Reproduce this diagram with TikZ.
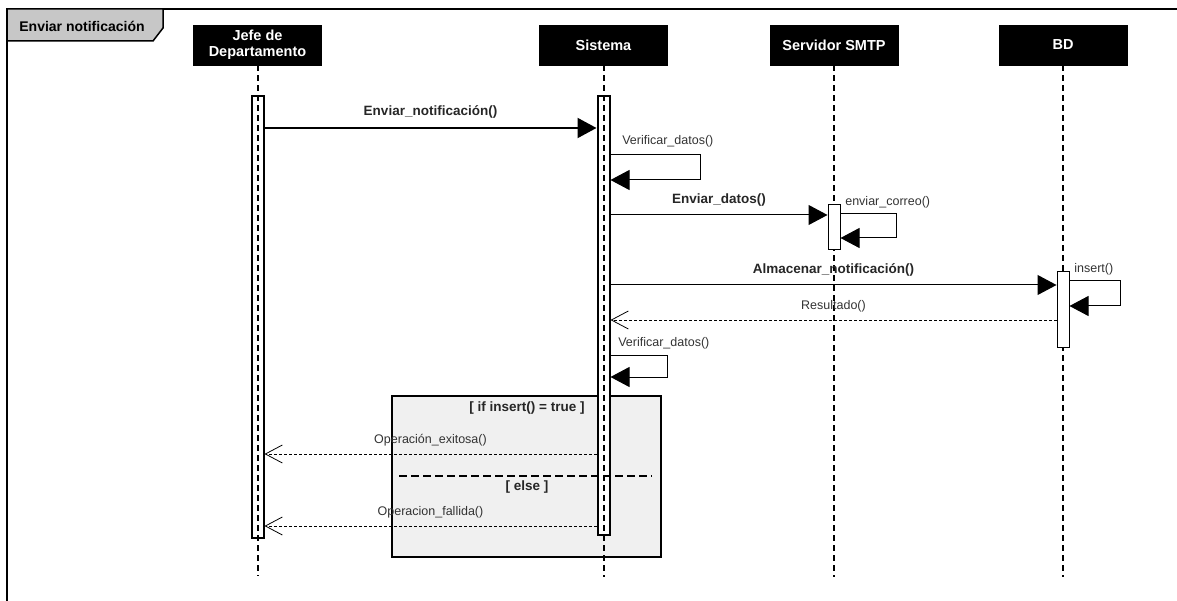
\documentclass[tikz,border=0pt]{standalone}
\usepackage{fontspec}
\setmainfont{Liberation Sans}
\usetikzlibrary{positioning, arrows.meta, calc}
\tikzset{
  % --- frame with title tab ---
  sdframe/.style={line width=2.5pt},
  sdtitle/.style={draw, line width=1.5pt, fill=black!22},
  % --- lifeline heads, lifelines, activations ---
  headbox/.style={draw, fill=black, text=white, align=center,
    font=\fontsize{14.5}{16}\selectfont\bfseries,
    minimum width=128pt, minimum height=40pt, inner sep=2pt},
  lifeline/.style={line width=2pt, dash pattern=on 6pt off 4pt},
  actbar/.style={draw, fill=white, line width=2pt, minimum width=12pt, inner sep=0pt},
  actthin/.style={actbar, line width=1pt},
  % --- messages ---
  msg/.style={-{Triangle[length=19pt, width=20pt]}, line width=1pt},
  msgthick/.style={msg, line width=2pt},
  retmsg/.style={-{Straight Barb[length=17pt, width=18pt]}, line width=0.8pt,
    dash pattern=on 3pt off 2pt},
  lblbold/.style={font=\fontsize{13.5}{15}\selectfont\bfseries, text=black!85},
  lbl/.style={font=\fontsize{12.5}{14}\selectfont, text=black!80},
  % --- alt fragment ---
  fragbox/.style={draw, line width=2pt, fill=black!6},
  fragsep/.style={line width=2pt, dash pattern=on 8pt off 4pt},
}

\begin{document}
\begin{tikzpicture}[x=1pt, y=-1pt]
    \useasboundingbox (0,0) rectangle (1177,601);
    % ---- Frame ----
    \draw[sdframe] (7,601) -- (7,9) -- (1177,9);
    \draw[sdtitle] (7,9) -- (163,9) -- (163,28) -- (153,41) -- (7,41) -- cycle;
    \node[font=\fontsize{14}{16}\selectfont\bfseries] (title) at (82,26) {Enviar notificación};
    % ---- Heads ----
    \node[headbox] (jefe) at (257.5,45) {Jefe de\\Departamento};
    \node[headbox] (sis) at (603.5,45) {Sistema};
    \node[headbox] (smtp) at (834,45) {Servidor SMTP};
    \node[headbox] (bd) at (1063,45) {BD};
    % ---- Alt fragment (behind bars) ----
    \node[fragbox, minimum width=269pt, minimum height=161pt, inner sep=0pt] (alt) at (526.5,476) {};
    % ---- Activations ----
    \node[actbar, minimum height=442pt] (barJ) at (257.5,317) {};
    \node[actbar, minimum height=439pt] (barS) at (603.5,315.5) {};
    \coordinate (jend) at (257.5,576);
    \coordinate (send) at (603.5,577);
    \coordinate (mend) at (834,577);
    \coordinate (bend) at (1063,577);
    % ---- Lifelines ----
    \draw[lifeline] (jefe.south) -- (jend);
    \draw[lifeline] (sis.south) -- (send);
    \draw[lifeline] (smtp.south) -- (mend);
    \draw[lifeline] (bd.south) -- (bend);
    \node[actthin, minimum height=45pt] (barM) at (834,227.5) {};
    \node[actthin, minimum height=75pt] (barB) at (1063,309.5) {};
    % ---- Guards ----
    \node[lblbold] (g1) at (527,408) {[ if insert() = true ]};
    \draw[fragsep] (399,476) -- (652,476);
    \node[lblbold] (g2) at (527,487) {[ else ]};
    % ---- Message rows ----
    \coordinate (m1) at (0,128);
    \coordinate (m2) at (0,215);
    \coordinate (m3) at (0,285);
    \coordinate (m4) at (0,320);
    \coordinate (m5) at (0,454);
    \coordinate (m6) at (0,526);
    % ---- Calls ----
    \draw[msgthick] (barJ.east |- m1) -- node[lblbold, midway, above=5pt] {Enviar\_notificación()} (barS.west |- m1);
    \draw[msg] (barS.east |- m2) -- node[lblbold, midway, above=5pt] {Enviar\_datos()} (barM.west |- m2);
    \draw[msg] (barS.east |- m3) -- node[lblbold, midway, above=5pt] {Almacenar\_notificación()} (barB.west |- m3);
    % ---- Self calls ----
    \coordinate (v1a) at (700,155);
    \coordinate (v1b) at (700,180);
    \draw[msg] (barS.east |- v1a) -- node[lbl, pos=0, anchor=south west, xshift=8pt, yshift=4pt] {Verificar\_datos()} (v1a) -- (v1b) -- (barS.east |- v1b);
    \coordinate (c1a) at (896,214);
    \coordinate (c1b) at (896,238);
    \draw[msg] (barM.east |- c1a) -- node[lbl, pos=0, anchor=south west, xshift=1pt, yshift=2pt] {enviar\_correo()} (c1a) -- (c1b) -- (barM.east |- c1b);
    \coordinate (i1a) at (1120,281);
    \coordinate (i1b) at (1120,306);
    \draw[msg] (barB.east |- i1a) -- node[lbl, pos=0, anchor=south west, xshift=1pt, yshift=2pt] {insert()} (i1a) -- (i1b) -- (barB.east |- i1b);
    \coordinate (v2a) at (667,355);
    \coordinate (v2b) at (667,377);
    \draw[msg] (barS.east |- v2a) -- node[lbl, pos=0, anchor=south west, xshift=4pt, yshift=2pt] {Verificar\_datos()} (v2a) -- (v2b) -- (barS.east |- v2b);
    % ---- Returns ----
    \draw[retmsg] (barB.west |- m4) -- node[lbl, midway, above=4pt] {Resultado()} (barS.east |- m4);
    \draw[retmsg] (barS.west |- m5) -- node[lbl, midway, above=4pt] {Operación\_exitosa()} (barJ.east |- m5);
    \draw[retmsg] (barS.west |- m6) -- node[lbl, midway, above=4pt] {Operacion\_fallida()} (barJ.east |- m6);
\end{tikzpicture}
\end{document}
